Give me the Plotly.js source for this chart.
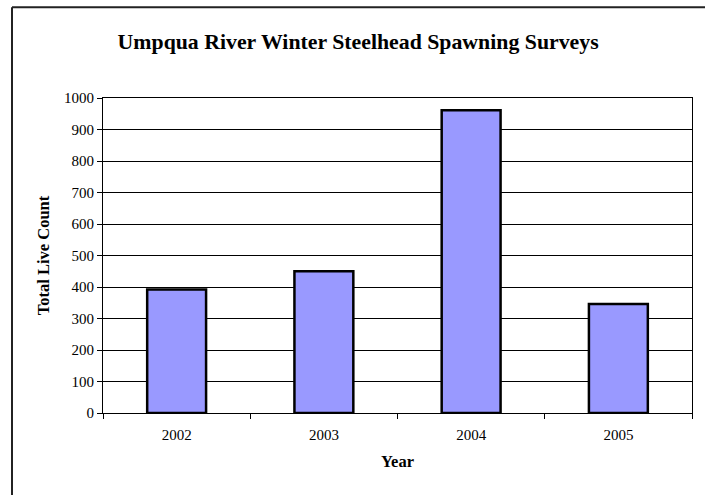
<!DOCTYPE html>
<html>
<head>
<meta charset="utf-8">
<script src="https://cdn.plot.ly/plotly-3.0.1.min.js"></script>
<style>
html,body{margin:0;padding:0;background:#fff;}
#chart{width:705px;height:495px;}
</style>
</head>
<body>
<div id="chart"></div>
<script>
const years = ['2002', '2003', '2004', '2005'];
const liveCounts = [392, 450, 961, 346];
const yTickValues = [0, 100, 200, 300, 400, 500, 600, 700, 800, 900, 1000];

const FONT = 'Liberation Serif, Times New Roman, serif';

const trace = {
  type: 'bar',
  x: years,
  y: liveCounts,
  width: 0.4,
  marker: { color: '#9999FF', line: { color: '#000000', width: 2.5 } },
  hoverinfo: 'x+y'
};

const layout = {
  width: 705,
  height: 495,
  margin: { l: 103, r: 13, t: 98, b: 82 },
  paper_bgcolor: '#ffffff',
  plot_bgcolor: '#ffffff',
  font: { family: FONT, color: '#000000', size: 15 },
  showlegend: false,
  bargap: 0.6,
  title: {
    text: '<b>Umpqua River Winter Steelhead Spawning Surveys</b>',
    font: { family: FONT, size: 21.8, color: '#000000' },
    xref: 'container', x: 0.508, xanchor: 'center',
    yref: 'container', y: 0.917, yanchor: 'middle'
  },
  xaxis: {
    type: 'category',
    tickson: 'boundaries',
    ticks: 'outside', ticklen: 5, tickcolor: '#000', tickwidth: 1,
    ticklabelstandoff: 8,
    showline: true, linecolor: '#000', linewidth: 1, mirror: true,
    showgrid: false,
    tickfont: { family: FONT, size: 15 },
    title: { text: '<b>Year</b>', font: { family: FONT, size: 16.5 }, standoff: 13 }
  },
  yaxis: {
    range: [0, 1000],
    tickvals: yTickValues,
    ticks: 'outside', ticklen: 5, tickcolor: '#000', tickwidth: 1,
    showline: true, linecolor: '#000', linewidth: 1, mirror: true,
    showgrid: true, gridcolor: '#000', gridwidth: 1,
    zeroline: false,
    tickfont: { family: FONT, size: 15 },
    title: { text: '<b>Total Live Count</b>', font: { family: FONT, size: 16.5 }, standoff: 10 }
  },
  shapes: [
    { type: 'line', xref: 'paper', yref: 'paper', x0: -0.1545, x1: -0.1545, y0: 1.288, y1: -0.4,
      line: { color: '#222', width: 2 } },
    { type: 'line', xref: 'paper', yref: 'paper', x0: -0.1545, x1: 1.1, y0: 1.288, y1: 1.288,
      line: { color: '#222', width: 2 } }
  ]
};

Plotly.newPlot('chart', [trace], layout, { displayModeBar: false, staticPlot: true });
</script>
</body>
</html>
